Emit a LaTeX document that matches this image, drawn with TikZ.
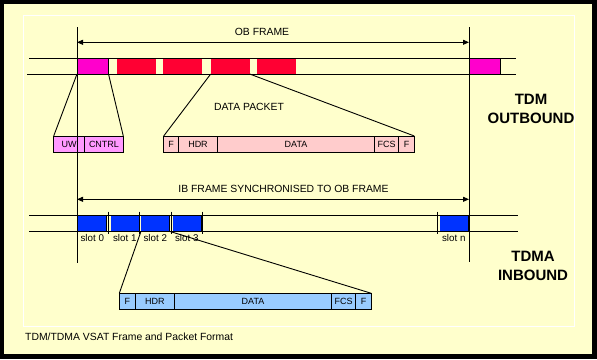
\documentclass[tikz,border=0pt]{standalone}
\usepackage{fontspec}
\setmainfont{Liberation Sans}
\usetikzlibrary{positioning,arrows.meta}

\definecolor{cream}{HTML}{FFFFCC}
\definecolor{tdmmag}{HTML}{FF00CC}
\definecolor{tdmred}{HTML}{FF0033}
\definecolor{tdmblue}{HTML}{0033FF}
\definecolor{lmag}{HTML}{FF99FF}
\definecolor{lpink}{HTML}{FFCCCC}
\definecolor{lblue}{HTML}{99CCFF}

\begin{document}
\begin{tikzpicture}[x=1pt, y=-1pt,
    ln/.style={line width=0.9pt},
    lbl/.style={font=\fontsize{10.4}{12}\selectfont, inner sep=0pt},
    big/.style={font=\fontsize{15}{19}\selectfont\bfseries, align=center, inner sep=0pt},
    burst/.style={minimum width=39pt, minimum height=15.3pt, inner sep=0pt, outer sep=0pt, anchor=north west},
    ctrl/.style={burst, minimum width=31.5pt, fill=tdmmag},
    slotbox/.style={minimum width=28.5pt, minimum height=16.3pt, inner sep=0pt, outer sep=0pt, anchor=north west, fill=tdmblue},
    slotlbl/.style={font=\fontsize{9.8}{11}\selectfont, inner sep=0pt},
    field/.style={draw, ln, minimum height=16.3pt, inner sep=0pt, outer sep=0pt, font=\fontsize{9}{10}\selectfont},
    framearrow/.style={ln, {Triangle[length=6pt,width=5pt]}-{Triangle[length=6pt,width=5pt]}},
]
\useasboundingbox (0,0) rectangle (597,359);
\fill[black] (0,0) rectangle (597,359);
\fill[cream] (4,4) rectangle (592,354);
\draw[white, line width=1pt] (23,15) rectangle (574,326);

% TDM outbound frame
\coordinate (obtop) at (77,27);
\coordinate (obend) at (469,27);
\node[lbl] (oblbl) at (262,32) {OB FRAME};
\draw[framearrow] (77,42.3) coordinate (oba) -- (469,42.3) coordinate (obb);

\node[ctrl] (m1) at (77,58.7) {};
\foreach \x [count=\i] in {116.7,163.3,210.7,257.3} {
    \node[burst, fill=tdmred] (d\i) at (\x,58.7) {};
}
\node[ctrl] (m2) at (469,58.7) {};
\draw[ln] (m1.north east) -- (m1.south east);
\draw[ln] (m2.north east) -- (m2.south east);
\draw[ln] (29,58.7) -- (516,58.7);
\draw[ln] (27,74) -- (516,74);

% control burst
\node[field, fill=lmag, minimum width=31pt, anchor=north west] (uw) at (53.7,136) {UW};
\node[field, fill=lmag, minimum width=38.6pt, right=0pt of uw] (cntrl) {CNTRL};
\draw[ln] (m1.south west) -- (uw.north west);
\draw[ln] (m1.south east) -- (cntrl.north east);

% data packet
\node[lbl] (dplbl) at (249,107.3) {DATA PACKET};
\node[field, fill=lpink, minimum width=15pt, anchor=north west] (of1) at (163.7,136) {F};
\node[field, fill=lpink, minimum width=38.6pt, right=0pt of of1] (ohdr) {HDR};
\node[field, fill=lpink, minimum width=157.4pt, right=0pt of ohdr] (odata) {DATA};
\node[field, fill=lpink, minimum width=24pt, right=0pt of odata] (ofcs) {FCS};
\node[field, fill=lpink, minimum width=15.6pt, right=0pt of ofcs] (of2) {F};
\draw[ln] (d3.south west) -- (of1.north west);
\draw[ln] (d3.south east) -- (of2.north east);

\node[big] (tdm) at (531,108.8) {TDM\\OUTBOUND};

% TDMA inbound frame
\node[lbl] (iblbl) at (283.5,189.3) {IB FRAME SYNCHRONISED TO OB FRAME};
\draw[framearrow] (77,199.3) coordinate (iba) -- (469,199.3) coordinate (ibb);

\foreach \x/\n [count=\i from 0] in {78/0,110.5/1,141/2,172.5/3,439.5/n} {
    \node[slotbox] (s\i) at (\x,215) {};
    \draw[ln] (s\i.north east) -- (s\i.south east);
    \node[slotlbl, below=2.5pt of s\i] (sl\i) {slot \n};
}
\foreach \x in {108.7,139,171,202,437.7} {
    \draw[ln] (\x,211.5) -- (\x,234);
}
\draw[ln] (29,215) -- (517.7,215);
\draw[ln] (29,231.3) -- (517.7,231.3);

% inbound packet
\node[field, fill=lblue, minimum width=16pt, anchor=north west] (if1) at (119.3,293.3) {F};
\node[field, fill=lblue, minimum width=39pt, right=0pt of if1] (ihdr) {HDR};
\node[field, fill=lblue, minimum width=157.4pt, right=0pt of ihdr] (idata) {DATA};
\node[field, fill=lblue, minimum width=24pt, right=0pt of idata] (ifcs) {FCS};
\node[field, fill=lblue, minimum width=15.6pt, right=0pt of ifcs] (if2) {F};
\draw[ln] (s2.south west) -- (if1.north west);
\draw[ln] (s2.south east) -- (if2.north east);

\node[big] (tdma) at (533,266.3) {TDMA\\INBOUND};

% frame boundaries
\draw[ln] (obtop) -- (77,263);
\draw[ln] (obend) -- (469,262);

\node[lbl, anchor=west] (caption) at (25,336.3) {TDM/TDMA VSAT Frame and Packet Format};
\end{tikzpicture}
\end{document}
